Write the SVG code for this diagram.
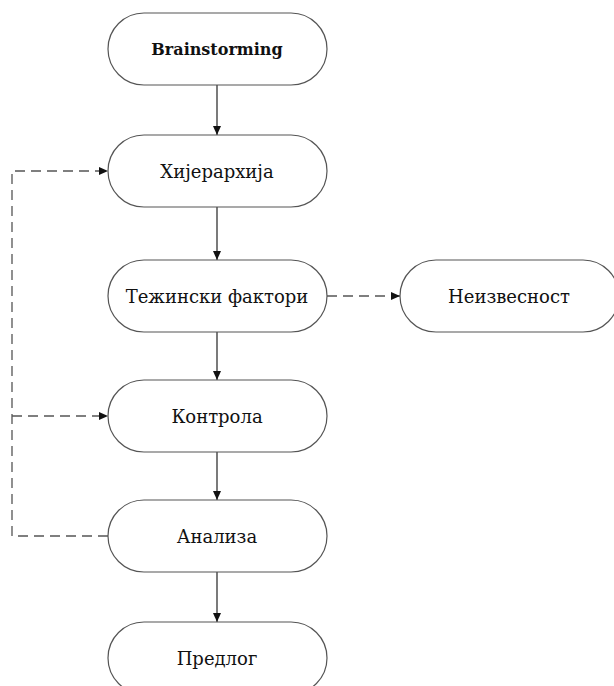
<svg xmlns="http://www.w3.org/2000/svg" width="614" height="686" viewBox="0 0 614 686">
<style>
.node rect{fill:#fff;stroke:#555;stroke-width:1.2}
.node text{font-family:"DejaVu Serif","Liberation Serif",serif;font-size:18px;fill:#111;text-anchor:middle;dominant-baseline:central}
.node text.b{font-size:16px;font-weight:bold}
.solid{stroke:#222;stroke-width:1.2;fill:none}
.dash{stroke:#555;stroke-width:1.3;fill:none;stroke-dasharray:10 6}
</style>
<defs>
<marker id="ah" markerWidth="10" markerHeight="10" refX="9" refY="4" orient="auto" markerUnits="userSpaceOnUse" viewBox="0 0 10 8">
<path d="M0,0 L9,4 L0,8 Z" fill="#111"/>
</marker>
</defs>
<g id="connectors">
<line class="solid" x1="217" y1="85" x2="217" y2="135" marker-end="url(#ah)"/>
<line class="solid" x1="217" y1="207" x2="217" y2="260" marker-end="url(#ah)"/>
<line class="solid" x1="217" y1="332" x2="217" y2="380" marker-end="url(#ah)"/>
<line class="solid" x1="217" y1="452" x2="217" y2="500" marker-end="url(#ah)"/>
<line class="solid" x1="217" y1="572" x2="217" y2="622" marker-end="url(#ah)"/>
<line class="dash" x1="327" y1="296" x2="400" y2="296" marker-end="url(#ah)"/>
<path class="dash" d="M108,536 H12 V171 H108" marker-end="url(#ah)"/>
<line class="dash" x1="12" y1="416" x2="108" y2="416" marker-end="url(#ah)"/>
</g>
<g id="brainstorming" class="node"><rect x="108" y="13" width="219" height="72" rx="36"/><text class="b" x="217" y="49">Brainstorming</text></g>
<g id="hijerarhija" class="node"><rect x="108" y="135" width="219" height="72" rx="36"/><text x="217" y="171">Хијерархија</text></g>
<g id="tezinski" class="node"><rect x="108" y="260" width="219" height="72" rx="36"/><text x="217" y="296">Тежински фактори</text></g>
<g id="neizvesnost" class="node"><rect x="400" y="260" width="219" height="72" rx="36"/><text x="509" y="296">Неизвесност</text></g>
<g id="kontrola" class="node"><rect x="108" y="380" width="219" height="72" rx="36"/><text x="217" y="416">Контрола</text></g>
<g id="analiza" class="node"><rect x="108" y="500" width="219" height="72" rx="36"/><text x="217" y="536">Анализа</text></g>
<g id="predlog" class="node"><rect x="108" y="622" width="219" height="72" rx="36"/><text x="217" y="658">Предлог</text></g>
</svg>
